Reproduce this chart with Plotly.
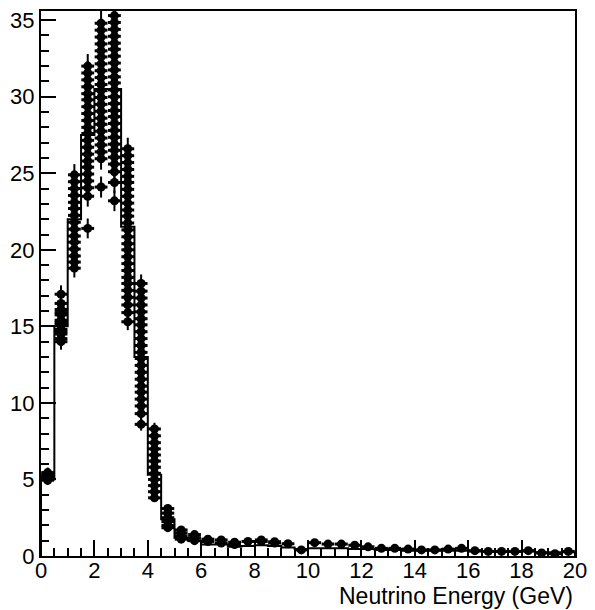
import plotly.graph_objects as go

# Bin centres (GeV), 0.5 GeV wide bins from 0 to 20
bin_centers = [0.25, 0.75, 1.25, 1.75, 2.25, 2.75, 3.25, 3.75, 4.25, 4.75,
               5.25, 5.75, 6.25, 6.75, 7.25, 7.75, 8.25, 8.75, 9.25, 9.75,
               10.25, 10.75, 11.25, 11.75, 12.25, 12.75, 13.25, 13.75, 14.25, 14.75,
               15.25, 15.75, 16.25, 16.75, 17.25, 17.75, 18.25, 18.75, 19.25, 19.75]
bin_edges = [0.0, 0.5, 1.0, 1.5, 2.0, 2.5, 3.0, 3.5, 4.0, 4.5, 5.0, 5.5, 6.0, 6.5,
             7.0, 7.5, 8.0, 8.5, 9.0, 9.5, 10.0, 10.5, 11.0, 11.5, 12.0, 12.5,
             13.0, 13.5, 14.0, 14.5, 15.0, 15.5, 16.0, 16.5, 17.0, 17.5, 18.0,
             18.5, 19.0, 19.5, 20.0]

# Histogram (step line) contents
hist_values = [5.0, 15.0, 22.0, 27.5, 30.5, 30.5, 21.5, 13.0, 5.3, 2.4,
               1.2, 1.0, 0.75, 0.75, 0.6, 0.65, 0.7, 0.65, 0.55, 0.45,
               0.5, 0.5, 0.5, 0.45, 0.45, 0.4, 0.4, 0.35, 0.35, 0.35,
               0.35, 0.35, 0.3, 0.3, 0.3, 0.3, 0.3, 0.25, 0.25, 0.25]

# Points with error bars, listed per bin (many variations per bin)
point_values_by_bin = [
    [4.95, 5.05, 5.15, 5.25, 5.35, 5.45, 5.1, 5.2],
    [17.1, 16.5, 16.1, 15.75, 15.4, 15.1, 14.8, 14.5, 14.2, 14.0, 15.9, 15.25, 14.65],
    [24.9, 24.45, 24.0, 23.55, 23.1, 22.7, 22.25, 21.8, 21.35, 20.9, 20.5, 20.05, 19.6, 19.2, 18.8],
    [32.0, 31.55, 31.1, 30.65, 30.2, 29.8, 29.35, 28.9, 28.45, 28.0, 27.6, 27.15, 26.7,
     26.25, 25.8, 25.4, 24.95, 24.5, 24.05, 23.5, 21.4],
    [34.8, 34.35, 33.9, 33.45, 33.0, 32.6, 32.15, 31.7, 31.25, 30.8, 30.4, 29.95, 29.5,
     29.05, 28.6, 28.2, 27.75, 27.3, 26.85, 26.4, 25.95, 24.1],
    [35.3, 34.85, 34.4, 33.95, 33.5, 33.1, 32.65, 32.2, 31.75, 31.3, 30.9, 30.45, 30.0,
     29.55, 29.1, 28.7, 28.25, 27.8, 27.35, 26.9, 26.5, 26.05, 25.6, 25.1, 24.4, 23.2],
    [26.6, 26.15, 25.7, 25.25, 24.8, 24.4, 23.95, 23.5, 23.05, 22.6, 22.2, 21.75, 21.3,
     20.85, 20.4, 20.0, 19.55, 19.1, 18.65, 18.2, 17.8, 17.35, 16.9, 16.4, 15.9, 15.3],
    [17.8, 17.3, 16.85, 16.4, 15.95, 15.5, 15.1, 14.65, 14.2, 13.75, 13.3, 12.9, 12.45,
     12.0, 11.55, 11.1, 10.7, 10.25, 9.8, 9.3, 8.6],
    [8.3, 7.85, 7.4, 7.0, 6.6, 6.2, 5.8, 5.4, 5.0, 4.6, 4.2, 3.8],
    [3.1, 2.8, 2.5, 2.25, 2.0, 1.85],
    [1.7, 1.5, 1.3, 1.1],
    [1.4, 1.2, 1.0],
    [1.1, 0.95],
    [1.05, 0.85],
    [0.9, 0.75],
    [0.95],
    [1.05, 0.95],
    [0.93, 0.85],
    [0.8],
    [0.4],
    [0.87],
    [0.78],
    [0.78],
    [0.7],
    [0.6],
    [0.5],
    [0.5],
    [0.45],
    [0.4],
    [0.4],
    [0.45],
    [0.5],
    [0.35],
    [0.3],
    [0.3],
    [0.3],
    [0.35],
    [0.2],
    [0.15],
    [0.3],
]

px, py, pe = [], [], []
for c, vals in zip(bin_centers, point_values_by_bin):
    for v in vals:
        px.append(c)
        py.append(v)
        pe.append(0.14 * max(v, 0.5) ** 0.5)

fig = go.Figure()

# step histogram
hx = [0.0] + bin_edges[:-1] + [20.0, 20.0]
hy = [0.0] + hist_values + [hist_values[-1], 0.0]
fig.add_trace(go.Scatter(x=hx, y=hy, mode="lines", line=dict(shape="hv", color="black", width=2),
                         hoverinfo="skip", showlegend=False))

fig.add_trace(go.Scatter(
    x=px, y=py, mode="markers",
    marker=dict(symbol="circle", size=9, color="black"),
    error_y=dict(type="data", array=pe, visible=True, color="black", thickness=2, width=0),
    error_x=dict(type="constant", value=0.24, visible=True, color="black", thickness=3, width=0),
    showlegend=False, cliponaxis=True))

axis_font = dict(family="Liberation Sans, Arial, sans-serif", size=22, color="black")
fig.update_xaxes(range=[0, 20], tickvals=[0, 2, 4, 6, 8, 10, 12, 14, 16, 18, 20],
                 ticks="inside", ticklen=16, tickwidth=2, tickcolor="black",
                 minor=dict(dtick=0.5, ticks="inside", ticklen=8, tickwidth=2, tickcolor="black"),
                 showline=True, linecolor="black", linewidth=2, mirror=True,
                 showgrid=False, zeroline=False, tickfont=axis_font, ticklabelstandoff=-6)
fig.update_yaxes(range=[0, 35.6], tickvals=[0, 5, 10, 15, 20, 25, 30, 35],
                 ticks="inside", ticklen=15, tickwidth=2, tickcolor="black",
                 minor=dict(dtick=1, ticks="inside", ticklen=8, tickwidth=2, tickcolor="black"),
                 showline=True, linecolor="black", linewidth=2, mirror=True,
                 showgrid=False, zeroline=False, tickfont=axis_font)

fig.add_annotation(text="Neutrino Energy (GeV)", xref="paper", yref="paper",
                   x=1.0, y=-0.073, xanchor="right", yanchor="middle", showarrow=False,
                   font=dict(family="Liberation Sans, Arial, sans-serif", size=23, color="black"))

fig.update_layout(width=595, height=610, margin=dict(l=41, r=16, t=8, b=54),
                  paper_bgcolor="white", plot_bgcolor="white")

fig.write_html("out.html")
